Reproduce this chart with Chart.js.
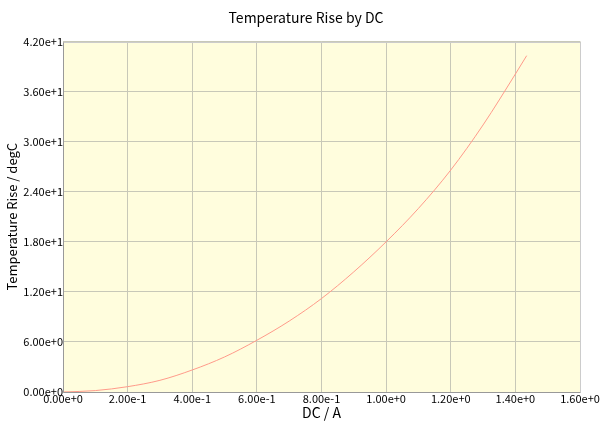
<!DOCTYPE html>
<html>
<head>
<meta charset="utf-8">
<script src="https://cdn.jsdelivr.net/npm/chart.js@4/dist/chart.umd.min.js"></script>
<style>
html,body{margin:0;padding:0;background:#fff;}
#wrap{width:603px;height:421px;position:relative;}
</style>
</head>
<body>
<div id="wrap"><canvas id="c" width="603" height="421"></canvas></div>
<script>
// Data
const dcAmps = [0, 0.1, 0.2, 0.3, 0.4, 0.5, 0.6, 0.7, 0.8, 0.9, 1.0, 1.1, 1.2, 1.3, 1.4, 1.435];
const tempRise = [0, 0.17, 0.64, 1.4, 2.64, 4.2, 6.2, 8.5, 11.2, 14.4, 18.0, 22.0, 26.6, 32.0, 38.1, 40.3];
const xTicks = [0, 0.2, 0.4, 0.6, 0.8, 1.0, 1.2, 1.4, 1.6];
const yTicks = [0, 6, 12, 18, 24, 30, 36, 42];
const chartTitle = 'Temperature Rise by DC';
const xTitle = 'DC / A';
const yTitle = 'Temperature Rise / degC';

const FONT = '"Noto Sans CJK JP", "DejaVu Sans", sans-serif';

const bgPlugin = {
  id: 'plotBg',
  beforeDraw(chart) {
    const {ctx, chartArea: a} = chart;
    ctx.save();
    ctx.fillStyle = '#fffddd';
    ctx.fillRect(a.left, a.top, a.right - a.left, a.bottom - a.top);
    ctx.restore();
  },
  afterDatasetsDraw(chart) {
    const {ctx, chartArea: a} = chart;
    ctx.save();
    ctx.strokeStyle = '#cccccc';
    ctx.lineWidth = 1;
    ctx.beginPath();
    ctx.moveTo(Math.round(a.left) + 0.5, Math.round(a.top) + 0.5);
    ctx.lineTo(Math.round(a.right) + 0.5, Math.round(a.top) + 0.5);
    ctx.lineTo(Math.round(a.right) + 0.5, Math.round(a.bottom) + 0.5);
    ctx.stroke();
    ctx.strokeStyle = '#999999';
    ctx.beginPath();
    ctx.moveTo(Math.round(a.left) + 0.5, Math.round(a.top) + 0.5);
    ctx.lineTo(Math.round(a.left) + 0.5, Math.round(a.bottom) + 0.5);
    ctx.lineTo(Math.round(a.right) + 0.5, Math.round(a.bottom) + 0.5);
    ctx.stroke();
    ctx.restore();
  },
  afterDraw(chart) {
    const {ctx} = chart;
    ctx.save();
    ctx.fillStyle = '#000';
    ctx.font = '14px ' + FONT;
    ctx.textAlign = 'center';
    ctx.textBaseline = 'middle';
    ctx.fillText(chartTitle, 306, 18);
    ctx.restore();
  }
};

new Chart(document.getElementById('c'), {
  type: 'scatter',
  data: {
    datasets: [{
      data: dcAmps.map((x, i) => ({x: x, y: tempRise[i]})),
      showLine: true,
      borderColor: '#ff9a8a',
      borderWidth: 1,
      pointRadius: 0,
      cubicInterpolationMode: 'monotone',
      fill: false
    }]
  },
  options: {
    responsive: false,
    animation: false,
    devicePixelRatio: 1,
    layout: {padding: {left: 0, right: 23, top: 41.5, bottom: 0}},
    plugins: {
      legend: {display: false},
      tooltip: {enabled: false},
      title: {display: false}
    },
    scales: {
      x: {
        type: 'linear',
        min: 0, max: 1.6,
        afterBuildTicks(scale) { scale.ticks = xTicks.map(v => ({value: v})); },
        afterFit(scale) { scale.height = 29; },
        grid: {color: '#c8c8b8', drawTicks: false, lineWidth: 1},
        border: {display: false},
        ticks: {
          color: '#000', padding: 0, maxRotation: 0, autoSkip: false,
          font: {family: FONT, size: 11},
          callback: v => Number(v).toExponential(2)
        },
        title: {
          display: true, text: xTitle, color: '#000',
          font: {family: FONT, size: 14}, padding: {top: 0, bottom: 0}
        }
      },
      y: {
        type: 'linear',
        min: 0, max: 42,
        afterBuildTicks(scale) { scale.ticks = yTicks.map(v => ({value: v})); },
        afterFit(scale) { scale.width = 63; },
        grid: {color: '#c8c8b8', drawTicks: false, lineWidth: 1},
        border: {display: false},
        ticks: {
          color: '#000', padding: 0, autoSkip: false,
          font: {family: FONT, size: 11},
          callback: v => Number(v).toExponential(2)
        },
        title: {
          display: true, text: yTitle, color: '#000',
          font: {family: FONT, size: 13}, padding: {top: 4, bottom: 0}
        }
      }
    }
  },
  plugins: [bgPlugin]
});
</script>
</body>
</html>
